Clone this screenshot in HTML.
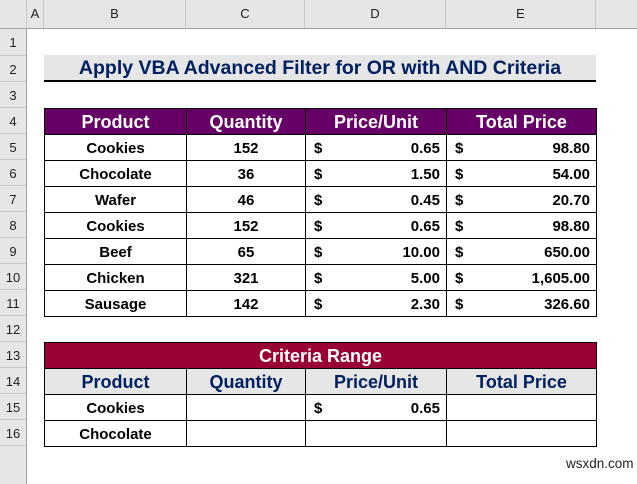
<!DOCTYPE html>
<html><head><style>
body{margin:0;width:637px;height:484px;overflow:hidden;background:#fff;font-family:"Liberation Sans",Arial,sans-serif;position:relative}
.a{position:absolute;box-sizing:border-box}
.ch{top:0;height:29px;background:#e6e6e6;border-right:1px solid #c8c8c8;border-bottom:1px solid #a0a0a0;font-size:13px;color:#222;text-align:center;line-height:28px}
.rh{left:0;width:27px;height:26px;background:#e6e6e6;border-bottom:1px solid #c8c8c8;border-right:1px solid #a0a0a0;font-size:13px;color:#222;text-align:center;line-height:28px}
table{position:absolute;border-collapse:collapse;left:44px;table-layout:fixed}
td{border:1px solid #000;height:25px;padding:2px 6px 0 6px;box-sizing:border-box;font-weight:bold;font-size:15px;text-align:center;white-space:nowrap}
.h td{background:#660066;color:#fff;font-size:18px}
.d{text-align:right;position:relative}
.d span{position:absolute;left:8px}
</style></head><body>
<div class="a ch" style="left:0;width:27px"></div>
<div class="a ch" style="left:27px;width:17px">A</div>
<div class="a ch" style="left:44px;width:142px">B</div>
<div class="a ch" style="left:186px;width:119px">C</div>
<div class="a ch" style="left:305px;width:141px">D</div>
<div class="a ch" style="left:446px;width:150px">E</div>
<div class="a ch" style="left:596px;width:41px;border-right:none"></div>
<div class="a rh" style="top:29px;height:27px">1</div>
<div class="a rh" style="top:56px">2</div>
<div class="a rh" style="top:82px">3</div>
<div class="a rh" style="top:108px">4</div>
<div class="a rh" style="top:134px">5</div>
<div class="a rh" style="top:160px">6</div>
<div class="a rh" style="top:186px">7</div>
<div class="a rh" style="top:212px">8</div>
<div class="a rh" style="top:238px">9</div>
<div class="a rh" style="top:264px">10</div>
<div class="a rh" style="top:290px">11</div>
<div class="a rh" style="top:316px">12</div>
<div class="a rh" style="top:342px">13</div>
<div class="a rh" style="top:368px">14</div>
<div class="a rh" style="top:394px">15</div>
<div class="a rh" style="top:420px">16</div>
<div class="a rh" style="top:446px;height:38px;border-bottom:none"></div>

<div class="a" style="left:44px;top:55px;width:552px;height:27px;background:#e7e6e6;border-bottom:2px solid #000;color:#002060;font-weight:bold;font-size:19.5px;text-align:center;line-height:27px">Apply VBA Advanced Filter for OR with AND Criteria</div>

<table style="top:108px;width:552px">
<colgroup><col style="width:142px"><col style="width:119px"><col style="width:141px"><col style="width:150px"></colgroup>
<tr class="h"><td style="height:26px">Product</td><td>Quantity</td><td>Price/Unit</td><td>Total Price</td></tr>
<tr><td style="height:26px">Cookies</td><td>152</td><td class="d"><span>$</span>0.65</td><td class="d"><span>$</span>98.80</td></tr>
<tr><td style="height:26px">Chocolate</td><td>36</td><td class="d"><span>$</span>1.50</td><td class="d"><span>$</span>54.00</td></tr>
<tr><td style="height:26px">Wafer</td><td>46</td><td class="d"><span>$</span>0.45</td><td class="d"><span>$</span>20.70</td></tr>
<tr><td style="height:26px">Cookies</td><td>152</td><td class="d"><span>$</span>0.65</td><td class="d"><span>$</span>98.80</td></tr>
<tr><td style="height:26px">Beef</td><td>65</td><td class="d"><span>$</span>10.00</td><td class="d"><span>$</span>650.00</td></tr>
<tr><td style="height:26px">Chicken</td><td>321</td><td class="d"><span>$</span>5.00</td><td class="d"><span>$</span>1,605.00</td></tr>
<tr><td style="height:26px">Sausage</td><td>142</td><td class="d"><span>$</span>2.30</td><td class="d"><span>$</span>326.60</td></tr>
</table>

<table style="top:342px;width:552px">
<colgroup><col style="width:142px"><col style="width:119px"><col style="width:141px"><col style="width:150px"></colgroup>
<tr><td colspan="4" style="height:26px;background:#990033;color:#fff;font-size:18px">Criteria Range</td></tr>
<tr><td style="height:26px;background:#e7e6e6;color:#002060;font-size:18px">Product</td><td style="background:#e7e6e6;color:#002060;font-size:18px">Quantity</td><td style="background:#e7e6e6;color:#002060;font-size:18px">Price/Unit</td><td style="background:#e7e6e6;color:#002060;font-size:18px">Total Price</td></tr>
<tr><td style="height:26px">Cookies</td><td></td><td class="d"><span>$</span>0.65</td><td></td></tr>
<tr><td style="height:26px">Chocolate</td><td></td><td></td><td></td></tr>
</table>

<div class="a" style="left:566px;top:456px;font-size:13.5px;color:#222">wsxdn.com</div>
</body></html>
